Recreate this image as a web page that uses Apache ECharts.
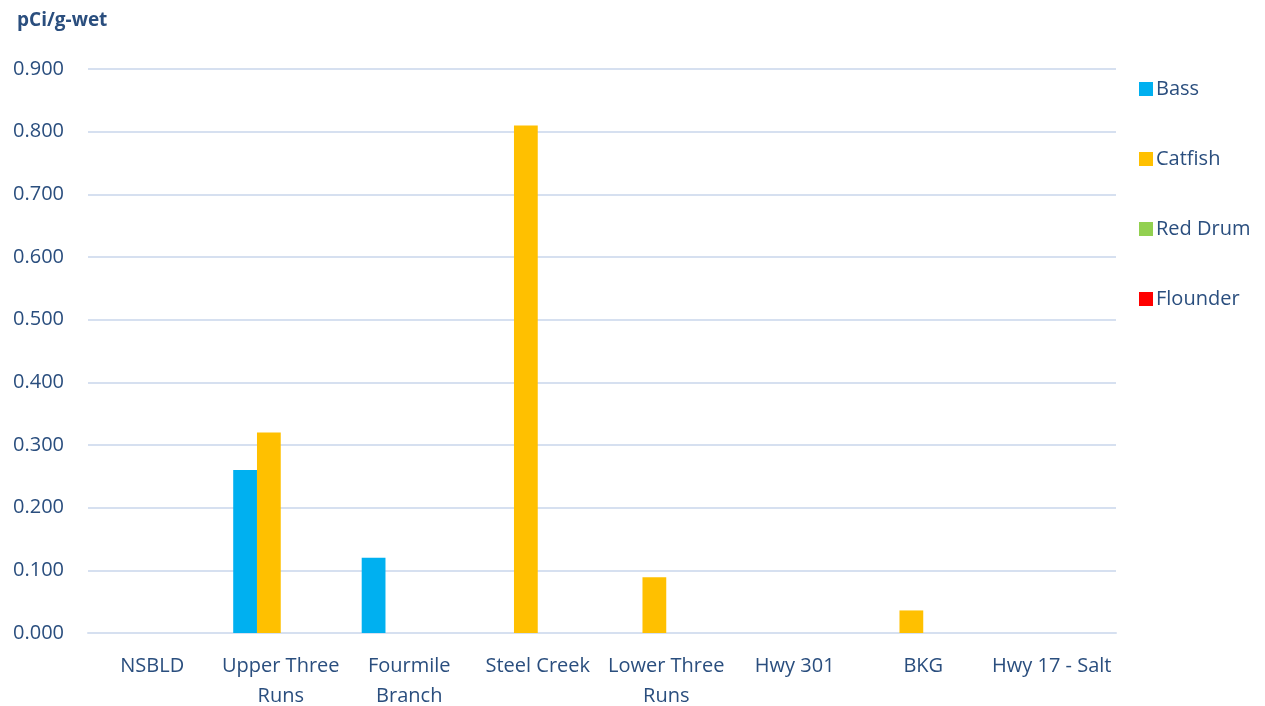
<!DOCTYPE html>
<html><head><meta charset="utf-8">
<script src="https://cdn.jsdelivr.net/npm/echarts@6/dist/echarts.min.js"></script>
<style>html,body{margin:0;padding:0;background:#fff}#c{width:1265px;height:706px}</style>
</head><body><div id="c"></div>
<script>
const categories = ['NSBLD', 'Upper Three\nRuns', 'Fourmile\nBranch', 'Steel Creek', 'Lower Three\nRuns', 'Hwy 301', 'BKG', 'Hwy 17 - Salt'];
const bass     = [null, 0.26, 0.12, null, null, null, null, null];
const catfish  = [null, 0.32, null, 0.81, 0.089, null, 0.036, null];
const redDrum  = [null, null, null, null, null, null, null, null];
const flounder = [null, null, null, null, null, null, null, null];
const seriesNames = ['Bass', 'Catfish', 'Red Drum', 'Flounder'];
const colors = ['#00B0F0', '#FFC000', '#92D050', '#FF0000'];
const yTicks = { min: 0, max: 0.9, interval: 0.1 };

const txt = '#2A4E7E';
const font = '"Open Sans", "Noto Sans", sans-serif';
const chart = echarts.init(document.getElementById('c'));
const data = [bass, catfish, redDrum, flounder];
chart.setOption({
  animation: false,
  color: colors,
  textStyle: { fontFamily: font },
  title: { text: 'pCi/g-wet', left: 12, top: 6,
    textStyle: { color: txt, fontSize: 19, fontWeight: 'bold', fontFamily: font } },
  legend: {
    orient: 'vertical', left: 1134, top: 74, itemWidth: 14, itemHeight: 14, itemGap: 50,
    icon: 'rect',
    textStyle: { color: txt, fontSize: 20, fontFamily: font, padding: [0, 0, 0, -2] },
    data: seriesNames
  },
  grid: { left: 88, right: 149, top: 69, bottom: 73, outerBoundsMode: 'none', containLabel: false },
  xAxis: {
    type: 'category', data: categories,
    axisLine: { lineStyle: { color: '#D6E0F0', width: 2 } },
    axisTick: { show: false },
    axisLabel: { color: txt, fontSize: 20, fontFamily: font, lineHeight: 30, margin: 18, interval: 0 }
  },
  yAxis: {
    type: 'value', min: yTicks.min, max: yTicks.max, interval: yTicks.interval,
    axisLine: { show: false }, axisTick: { show: false },
    splitLine: { lineStyle: { color: '#D6E0F0', width: 2 } },
    axisLabel: { color: txt, fontSize: 20, fontFamily: font, margin: 24,
      formatter: v => v.toFixed(3) }
  },
  series: seriesNames.map((n, i) => ({
    name: n, type: 'bar', data: data[i], barGap: '0%', barCategoryGap: '26%'
  }))
});
</script></body></html>
